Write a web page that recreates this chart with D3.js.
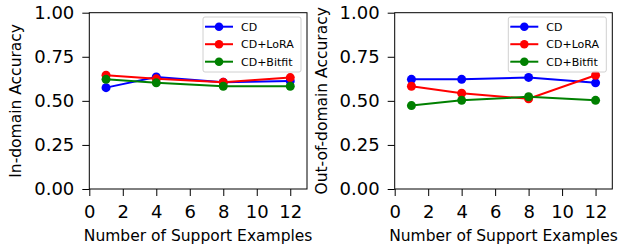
<!DOCTYPE html>
<html>
<head>
<meta charset="utf-8">
<script src="https://cdn.jsdelivr.net/npm/d3@7"></script>
<style>
  body { margin: 0; background: #fff; }
  text { font-family: "DejaVu Sans", sans-serif; }
</style>
</head>
<body>
<div id="chart"></div>
<script>
// Data
const supportExamples = [1, 4, 8, 12];
const seriesNames = ["CD", "CD+LoRA", "CD+Bitfit"];
const seriesColors = ["#0000ff", "#ff0000", "#008000"];

const inDomainCD = [0.575, 0.635, 0.605, 0.612];
const inDomainLoRA = [0.645, 0.625, 0.605, 0.632];
const inDomainBitfit = [0.622, 0.602, 0.583, 0.583];

const outDomainCD = [0.622, 0.622, 0.633, 0.602];
const outDomainLoRA = [0.583, 0.543, 0.512, 0.645];
const outDomainBitfit = [0.473, 0.503, 0.523, 0.503];

const xTicks = [0, 2, 4, 6, 8, 10, 12];
const yTicks = [0, 0.25, 0.5, 0.75, 1.0];

const svg = d3.select("#chart")
  .append("svg")
    .attr("width", 618)
    .attr("height", 248);

const drawPanel = (left, right, yLabel, series) => {
  const top = 12.7, bottom = 189;

  const x = d3.scaleLinear().domain([0, 13]).range([left, right]);
  const y = d3.scaleLinear().domain([0, 1]).range([bottom, top]);

  const g = svg.append("g");

  // axes
  const xAxis = g.append("g")
    .attr("transform", `translate(0,${bottom})`)
    .call(d3.axisBottom(x).tickValues(xTicks).tickFormat(d3.format("d")).tickSize(7).tickPadding(9));
  const yAxis = g.append("g")
    .attr("transform", `translate(${left},0)`)
    .call(d3.axisLeft(y).tickValues(yTicks).tickFormat(d3.format(".2f")).tickSize(7).tickPadding(8));

  [xAxis, yAxis].forEach(a => {
    a.select(".domain").remove();
    a.selectAll(".tick line").attr("stroke", "#000").attr("stroke-width", 1);
    a.selectAll(".tick text")
      .attr("fill", "#000")
      .style("font-size", "18px")
      .style("font-family", "DejaVu Sans");
  });

  // frame
  g.append("rect")
    .attr("x", left)
    .attr("y", top)
    .attr("width", right - left)
    .attr("height", bottom - top)
    .attr("fill", "none")
    .attr("stroke", "#000")
    .attr("stroke-width", 1);

  const line = d3.line()
    .x((d, i) => x(supportExamples[i]))
    .y(d => y(d));

  series.forEach((vals, k) => {
    g.append("path")
      .datum(vals)
      .attr("d", line)
      .attr("fill", "none")
      .attr("stroke", seriesColors[k])
      .attr("stroke-width", 2);
    g.selectAll(null)
      .data(vals)
      .join("circle")
        .attr("cx", (d, i) => x(supportExamples[i]))
        .attr("cy", d => y(d))
        .attr("r", 4.5)
        .attr("fill", seriesColors[k]);
  });

  // axis labels
  g.append("text")
    .attr("x", (left + right) / 2)
    .attr("y", 241)
    .attr("text-anchor", "middle")
    .style("font-size", "15.5px")
    .text("Number of Support Examples");

  g.append("text")
    .attr("transform", `translate(${left - 68},${(top + bottom) / 2}) rotate(-90)`)
    .attr("text-anchor", "middle")
    .style("font-size", "15.5px")
    .text(yLabel);

  // legend
  const lx = right - 104, ly = 17;
  g.append("rect")
    .attr("x", lx)
    .attr("y", ly)
    .attr("width", 98)
    .attr("height", 55)
    .attr("rx", 2)
    .attr("fill", "#fff")
    .attr("fill-opacity", 0.8)
    .attr("stroke", "#d0d0d0")
    .attr("stroke-width", 1);

  seriesNames.forEach((name, k) => {
    const ry = ly + 9.7 + k * 17.5;
    g.append("line")
      .attr("x1", lx + 2).attr("x2", lx + 30)
      .attr("y1", ry).attr("y2", ry)
      .attr("stroke", seriesColors[k])
      .attr("stroke-width", 2);
    g.append("circle")
      .attr("cx", lx + 16).attr("cy", ry)
      .attr("r", 4.3)
      .attr("fill", seriesColors[k]);
    g.append("text")
      .attr("x", lx + 38)
      .attr("y", ry + 4)
      .style("font-size", "11px")
      .text(name);
  });
};

drawPanel(89.3, 307, "In-domain Accuracy", [inDomainCD, inDomainLoRA, inDomainBitfit]);
drawPanel(394.7, 612.3, "Out-of-domain Accuracy", [outDomainCD, outDomainLoRA, outDomainBitfit]);
</script>
</body>
</html>
